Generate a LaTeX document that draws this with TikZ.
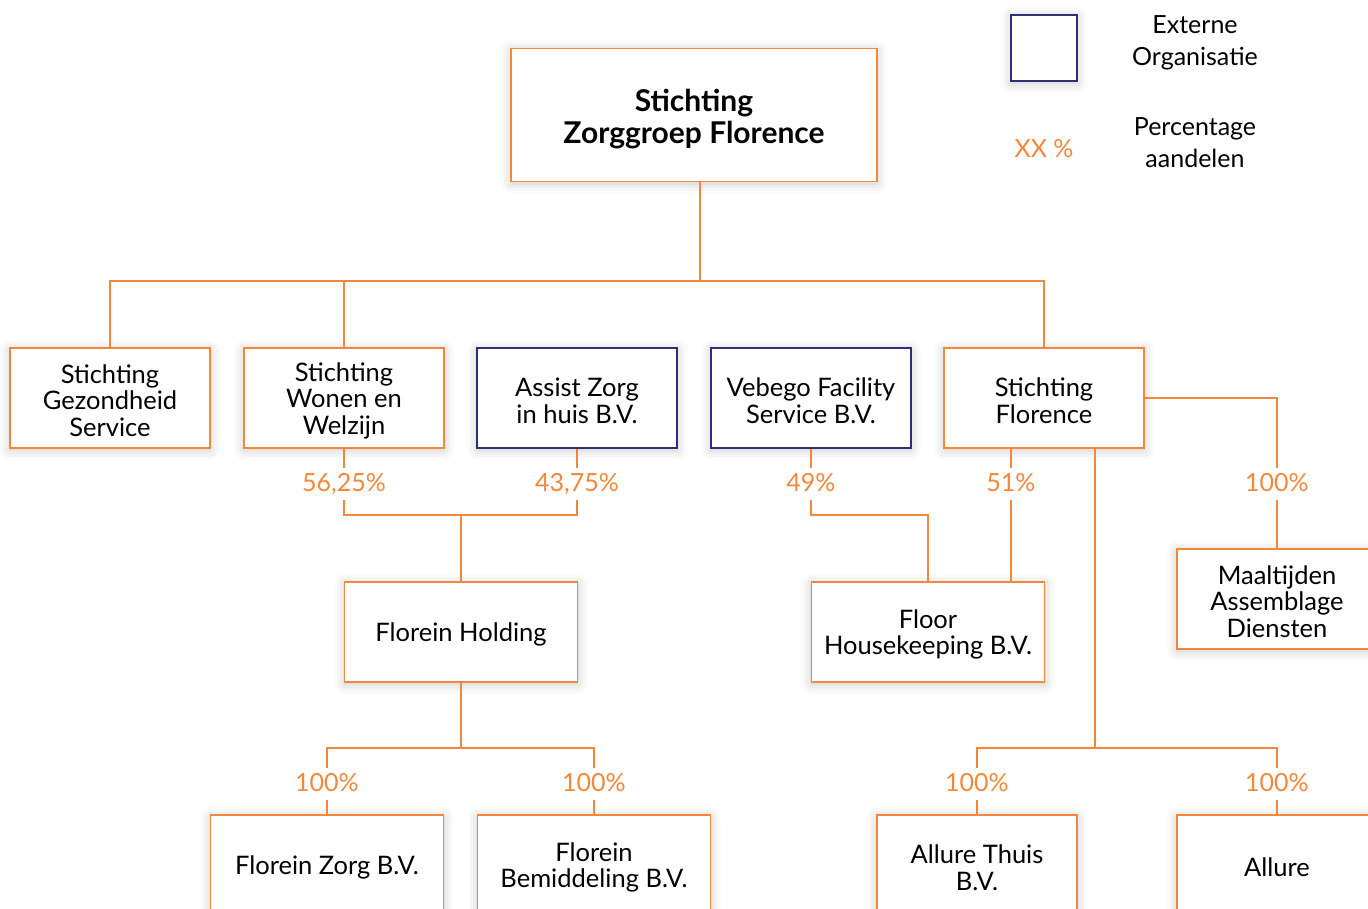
\documentclass[tikz,border=0pt]{standalone}
\usepackage{fontspec}
\setmainfont{Lato}
\usetikzlibrary{positioning, shadows.blur, calc}
\definecolor{florence_orange}{RGB}{243,135,58}
\definecolor{extern_navy}{RGB}{46,46,122}
\newcommand{\boxstrut}{\rule{0pt}{24pt}}
\tikzset{
  box_font/.style = {font=\fontsize{25.5}{26.5}\selectfont},
  title_font/.style = {font=\fontsize{30}{32}\selectfont\bfseries},
  share_font/.style = {font=\fontsize{25}{26}\selectfont},
  legend_font/.style = {font=\fontsize{25}{32}\selectfont},
  box_shadow/.style = {blur shadow={shadow xshift=0pt, shadow yshift=-2pt, shadow opacity=22, shadow blur radius=10pt}}
}
\tikzset{
  org/.style = {box_font, align=center, draw=florence_orange, line width=1.2pt, fill=white, box_shadow, minimum width=200, minimum height=100, inner sep=0},
  org_wide/.style = {org, minimum width=233},
  ext/.style = {org, draw=extern_navy},
  share/.style = {share_font, text=florence_orange, text height=18, text depth=4, inner xsep=0, inner ysep=5},
  legend/.style = {legend_font, align=center},
  link/.style = {draw=florence_orange, line width=1.2pt}
}

\begin{document}
\begin{tikzpicture}[x=1pt, y=-1pt]
    \useasboundingbox (0,0) rectangle (1368,909);

    % Legend
    \node[ext, minimum width=66, minimum height=66] at (1044,48) (legend_ext) {};
    \node[legend] at (1195,43) (legend_ext_txt) {Externe\\Organisatie};
    \node[share_font, text=florence_orange] at (1044,149) (legend_share) {XX \%};
    \node[legend] at (1195,143) (legend_share_txt) {Percentage\\aandelen};

    % Top
    \node[org, title_font, minimum width=366, minimum height=133] at (694,115) (zorggroep) {
        \rule{0pt}{30pt}Stichting\\Zorggroep Florence};

    % First row
    \node[org] at (110,398) (gezondheid) {\boxstrut Stichting\\Gezondheid\\Service};
    \node[org] at (344,398) (wonen) {\boxstrut Stichting\\Wonen en\\Welzijn};
    \node[ext] at (577,398) (assist) {\boxstrut Assist Zorg\\in huis B.V.};
    \node[ext] at (811,398) (vebego) {\boxstrut Vebego Facility\\Service B.V.};
    \node[org] at (1044,398) (florence) {\boxstrut Stichting\\Florence};

    % Shares of the first row
    \node[share] at (344,484) (p_wonen) {56,25\%};
    \node[share] at (577,484) (p_assist) {43,75\%};
    \node[share] at (811,484) (p_vebego) {49\%};
    \node[share] at (1011,484) (p_florence) {51\%};
    \node[share] at (1277,484) (p_maaltijden) {100\%};

    % Second row
    \node[org_wide] at (461,632) (holding) {\boxstrut Florein Holding};
    \node[org_wide] at (928,632) (floor) {\boxstrut Floor\\Housekeeping B.V.};
    \node[org] at (1277,599) (maaltijden) {\boxstrut Maaltijden\\Assemblage\\Diensten};

    % Shares of the third row
    \node[share] at (327,784) (p_zorg) {100\%};
    \node[share] at (594,784) (p_bemiddeling) {100\%};
    \node[share] at (977,784) (p_thuis) {100\%};
    \node[share] at (1277,784) (p_allure) {100\%};

    % Third row
    \node[org_wide] at (327,865) (zorg) {\boxstrut Florein Zorg B.V.};
    \node[org_wide] at (594,865) (bemiddeling) {\boxstrut Florein\\Bemiddeling B.V.};
    \node[org] at (977,865) (thuis) {\boxstrut Allure Thuis\\B.V.};
    \node[org] at (1277,865) (allure) {\boxstrut Allure};

    % Junctions
    \coordinate (top_split) at (700,281);
    \coordinate (holding_split) at (461,515);
    \coordinate (floor_bend) at (928,515);
    \coordinate (zorg_split) at (461,748);
    \coordinate (allure_split) at (1095,748);

    % Lines
    \draw[link] (zorggroep.south -| top_split) -- (top_split);
    \draw[link] (top_split) -| (gezondheid.north);
    \draw[link] (top_split) -| (wonen.north);
    \draw[link] (top_split) -| (florence.north);

    \draw[link] (wonen.south) -- (p_wonen.north);
    \draw[link] (assist.south) -- (p_assist.north);
    \draw[link] (p_wonen.south) |- (holding_split);
    \draw[link] (p_assist.south) |- (holding_split);
    \draw[link] (holding_split) -- (holding.north);

    \draw[link] (vebego.south) -- (p_vebego.north);
    \draw[link] (p_vebego.south) |- (floor_bend) -- (floor.north);
    \draw[link] (florence.south -| p_florence) -- (p_florence.north);
    \draw[link] (p_florence.south) -- (floor.north -| p_florence);

    \draw[link] (florence.east) -| (p_maaltijden.north);
    \draw[link] (p_maaltijden.south) -- (maaltijden.north);

    \draw[link] (holding.south) -- (zorg_split);
    \draw[link] (zorg_split) -| (p_zorg.north);
    \draw[link] (zorg_split) -| (p_bemiddeling.north);
    \draw[link] (p_zorg.south) -- (zorg.north);
    \draw[link] (p_bemiddeling.south) -- (bemiddeling.north);

    \draw[link] (florence.south -| allure_split) -- (allure_split);
    \draw[link] (allure_split) -| (p_thuis.north);
    \draw[link] (allure_split) -| (p_allure.north);
    \draw[link] (p_thuis.south) -- (thuis.north);
    \draw[link] (p_allure.south) -- (allure.north);
\end{tikzpicture}
\end{document}
